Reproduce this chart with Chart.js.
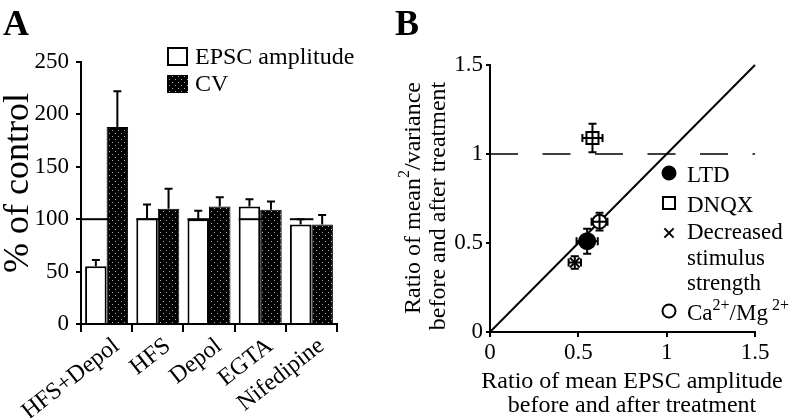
<!DOCTYPE html>
<html><head><meta charset="utf-8">
<script src="https://cdn.jsdelivr.net/npm/chart.js@4/dist/chart.umd.min.js"></script>
<style>
html,body{margin:0;padding:0;background:#fff;width:800px;height:418px;overflow:hidden}
#ca{position:absolute;left:0;top:0}
#cb{position:absolute;left:390px;top:0}
</style></head><body>
<canvas id="ca" width="395" height="418"></canvas>
<canvas id="cb" width="410" height="418"></canvas>
<script>
// ---------- Panel A data ----------
const categories = ['HFS+Depol', 'HFS', 'Depol', 'EGTA', 'Nifedipine'];
const epscAmplitude = [55, 101, 100, 112, 95];
const epscError = [6, 13, 8, 7, 5];
const cvValues = [188, 110, 112, 109, 95];
const cvError = [34, 19, 9, 8, 9];
const yTicksA = [0, 50, 100, 150, 200, 250];
const controlPercent = 100;

// ---------- Panel B data ----------
const groups = ['LTD', 'DNQX', 'Decreased stimulus strength', 'Ca2+/Mg2+'];
const ampRatio = [0.55, 0.58, 0.48, 0.62];
const ampRatioErr = [0.06, 0.057, 0.035, 0.045];
const cvRatio = [0.51, 1.09, 0.39, 0.62];
const cvRatioErr = [0.07, 0.08, 0.035, 0.05];
const identityLine = [0, 1.5];
const noChangeLevel = 1;
const xTicksB = [0, 0.5, 1, 1.5];
const yTicksB = [0, 0.5, 1, 1.5];

const FONT = '"Liberation Serif", "Times New Roman", serif';
Chart.defaults.font.family = FONT;
Chart.defaults.color = '#000';

function drawRich(ctx, parts, x, y, size, align) {
  let total = 0;
  const ws = parts.map(([t, s]) => {
    ctx.font = (s ? Math.round(size * 0.68) : size) + 'px ' + FONT;
    const w = ctx.measureText(t).width; total += w; return w;
  });
  let cx = align === 'center' ? x - total / 2 : x;
  ctx.textAlign = 'left'; ctx.textBaseline = 'alphabetic';
  parts.forEach(([t, s], i) => {
    ctx.font = (s ? Math.round(size * 0.68) : size) + 'px ' + FONT;
    ctx.fillText(t, cx, s ? y - size * 0.45 : y);
    cx += ws[i];
  });
}

// ---------- Panel A ----------
const ctxA = document.getElementById('ca').getContext('2d');
function dotPattern(ctx) {
  const c = document.createElement('canvas'); c.width = 6; c.height = 6;
  const g = c.getContext('2d');
  g.fillStyle = '#000'; g.fillRect(0, 0, 6, 6);
  g.fillStyle = '#aaa'; g.fillRect(1, 1, 1, 1); g.fillRect(4, 4, 1, 1);
  return ctx.createPattern(c, 'repeat');
}
const cvPattern = dotPattern(ctxA);

const pluginA = {
  id: 'panelA',
  afterDatasetsDraw(chart) {
    const ctx = chart.ctx, y = chart.scales.y, area = chart.chartArea;
    ctx.save();
    ctx.strokeStyle = '#000'; ctx.lineWidth = 2;
    const m0 = chart.getDatasetMeta(0);
    m0.data.forEach((bar, i) => {
      const yy = y.getPixelForValue(controlPercent);
      const l = i === 0 ? area.left : bar.x - bar.width / 2;
      ctx.beginPath(); ctx.moveTo(l, yy); ctx.lineTo(bar.x + bar.width / 2 + 2, yy); ctx.stroke();
    });
    chart.data.datasets.forEach((ds, di) => {
      const meta = chart.getDatasetMeta(di);
      meta.data.forEach((bar, i) => {
        const top = y.getPixelForValue(ds.data[i]);
        const e = y.getPixelForValue(ds.data[i] + ds.errors[i]);
        ctx.beginPath();
        ctx.moveTo(bar.x, top); ctx.lineTo(bar.x, e);
        ctx.moveTo(bar.x - 4, e); ctx.lineTo(bar.x + 4, e);
        ctx.stroke();
      });
    });
    ctx.restore();
  },
  afterDraw(chart) {
    const ctx = chart.ctx;
    ctx.save();
    ctx.fillStyle = '#000';
    ctx.font = 'bold 36px ' + FONT; ctx.textAlign = 'left'; ctx.textBaseline = 'alphabetic';
    ctx.fillText('A', 3, 35);
    ctx.lineWidth = 2; ctx.strokeStyle = '#000';
    ctx.fillStyle = '#fff'; ctx.fillRect(168, 48, 19, 17); ctx.strokeRect(168, 48, 19, 17);
    ctx.fillStyle = cvPattern; ctx.fillRect(167, 75, 21, 18);
    ctx.fillStyle = '#000';
    ctx.font = '24px ' + FONT;
    ctx.fillText(chart.data.datasets[0].label, 195, 64);
    ctx.fillText(chart.data.datasets[1].label, 195, 91);
    ctx.save();
    ctx.translate(28, 183); ctx.rotate(-Math.PI / 2);
    ctx.font = '36px ' + FONT; ctx.textAlign = 'center';
    ctx.fillText('% of control', 0, 0);
    ctx.restore();
    ctx.restore();
  }
};

new Chart(ctxA, {
  type: 'bar',
  data: {
    labels: categories,
    datasets: [
      { label: 'EPSC amplitude', data: epscAmplitude, errors: epscError, backgroundColor: '#fff', borderColor: '#000', borderWidth: 2 },
      { label: 'CV', data: cvValues, errors: cvError, backgroundColor: cvPattern, borderColor: '#000', borderWidth: 1 }
    ]
  },
  options: {
    responsive: false, animation: false,
    categoryPercentage: 0.84, barPercentage: 1.0,
    layout: { padding: { top: 62, right: 58, left: 0, bottom: 0 } },
    plugins: { legend: { display: false }, tooltip: { enabled: false } },
    scales: {
      x: {
        grid: { display: true, drawOnChartArea: false, drawTicks: true, tickLength: 8, color: '#000', lineWidth: 2, offset: true },
        border: { display: true, color: '#000', width: 2 },
        ticks: { font: { size: 24 }, color: '#000', minRotation: 38, maxRotation: 38, autoSkip: false, padding: 0, labelOffset: 10 },
        afterFit(s) { s.height = 94; s.paddingLeft = 0; s.paddingRight = 0; }
      },
      y: {
        min: 0, max: 250,
        afterBuildTicks(s) { s.ticks = yTicksA.map(v => ({ value: v })); },
        grid: { drawOnChartArea: false, drawTicks: true, tickLength: 5, color: '#000', lineWidth: 2 },
        border: { display: true, color: '#000', width: 2 },
        ticks: { font: { size: 23 }, color: '#000', padding: 7 },
        afterFit(s) { s.width = 81; s.paddingTop = 0; s.paddingBottom = 0; }
      }
    }
  },
  plugins: [pluginA]
});

// ---------- Panel B ----------
const ctxB = document.getElementById('cb').getContext('2d');
const markerStyle = [
  { pointStyle: 'circle', r: 8, bg: '#000', lr: 6.5 },
  { pointStyle: 'rect', r: 8.5, bg: '#fff', lr: 8.5 },
  { pointStyle: 'crossRot', r: 7, bg: '#000', lr: 6.5 },
  { pointStyle: 'circle', r: 7, bg: '#fff', lr: 6.5 }
];
const legendLines = [
  [[['LTD', false]]],
  [[['DNQX', false]]],
  [[['Decreased', false]], [['stimulus', false]], [['strength', false]]],
  [[['Ca', false], ['2+', true], ['/Mg', false], [' 2+', true]]]
];

const pointSets = groups.map((g, i) => ({
  label: g,
  data: [{ x: ampRatio[i], y: cvRatio[i] }],
  errX: [ampRatioErr[i]], errY: [cvRatioErr[i]],
  pointStyle: markerStyle[i].pointStyle,
  pointRadius: markerStyle[i].r,
  backgroundColor: markerStyle[i].bg,
  borderColor: '#000', borderWidth: 2,
  order: 1
}));

const pluginB = {
  id: 'panelB',
  afterDatasetsDraw(chart) {
    const ctx = chart.ctx, x = chart.scales.x, y = chart.scales.y;
    ctx.save(); ctx.strokeStyle = '#000'; ctx.lineWidth = 2;
    chart.data.datasets.forEach((ds, di) => {
      if (!ds.errX) return;
      chart.getDatasetMeta(di).data.forEach((pt, i) => {
        const v = ds.data[i];
        const x0 = x.getPixelForValue(v.x - ds.errX[i]), x1 = x.getPixelForValue(v.x + ds.errX[i]);
        const y0 = y.getPixelForValue(v.y - ds.errY[i]), y1 = y.getPixelForValue(v.y + ds.errY[i]);
        ctx.beginPath();
        ctx.moveTo(x0, pt.y); ctx.lineTo(x1, pt.y);
        ctx.moveTo(pt.x, y0); ctx.lineTo(pt.x, y1);
        ctx.moveTo(x0, pt.y - 4); ctx.lineTo(x0, pt.y + 4);
        ctx.moveTo(x1, pt.y - 4); ctx.lineTo(x1, pt.y + 4);
        ctx.moveTo(pt.x - 4, y0); ctx.lineTo(pt.x + 4, y0);
        ctx.moveTo(pt.x - 4, y1); ctx.lineTo(pt.x + 4, y1);
        ctx.stroke();
      });
    });
    ctx.restore();
  },
  afterDraw(chart) {
    const ctx = chart.ctx;
    ctx.save();
    ctx.fillStyle = '#000'; ctx.strokeStyle = '#000';
    ctx.font = 'bold 36px ' + FONT; ctx.textAlign = 'left'; ctx.textBaseline = 'alphabetic';
    ctx.fillText('B', 5, 35);
    const mx = 279, tx = 297;
    const baselines = [[182], [212], [239, 265, 290], [320]];
    const markerY = [173, 203, 233, 311];
    markerStyle.forEach((m, i) => {
      ctx.lineWidth = 2; ctx.strokeStyle = '#000';
      ctx.fillStyle = m.bg;
      Chart.helpers.drawPoint(ctx, { pointStyle: m.pointStyle, radius: m.lr, borderWidth: 2 }, mx, markerY[i]);
      ctx.fillStyle = '#000';
      legendLines[i].forEach((parts, j) => drawRich(ctx, parts, tx, baselines[i][j], 23, 'left'));
    });
    drawRich(ctx, [['Ratio of mean EPSC amplitude', false]], 242, 388, 24, 'center');
    drawRich(ctx, [['before and after treatment', false]], 242, 412, 24, 'center');
    ctx.save();
    ctx.translate(30, 198); ctx.rotate(-Math.PI / 2);
    drawRich(ctx, [['Ratio of mean', false], ['2', true], ['/variance', false]], 0, 0, 24, 'center');
    ctx.restore();
    ctx.save();
    ctx.translate(55, 206); ctx.rotate(-Math.PI / 2);
    drawRich(ctx, [['before and after treatment', false]], 0, 0, 24, 'center');
    ctx.restore();
    ctx.restore();
  }
};

new Chart(ctxB, {
  type: 'scatter',
  data: {
    datasets: [
      ...pointSets,
      { label: 'identity', data: identityLine.map(v => ({ x: v, y: v })), showLine: true, pointRadius: 0, borderColor: '#000', borderWidth: 2, order: 2 },
      { label: 'no change', data: identityLine.map(v => ({ x: v, y: noChangeLevel })), showLine: true, pointRadius: 0, borderColor: '#000', borderWidth: 1.5, borderDash: [28, 24.5], order: 3 }
    ]
  },
  options: {
    responsive: false, animation: false, clip: false,
    layout: { padding: { top: 65, right: 45, left: 0, bottom: 0 } },
    plugins: { legend: { display: false }, tooltip: { enabled: false } },
    scales: {
      x: {
        type: 'linear', min: 0, max: 1.5,
        afterBuildTicks(s) { s.ticks = xTicksB.map(v => ({ value: v })); },
        grid: { drawOnChartArea: false, drawTicks: true, tickLength: 5, color: '#000', lineWidth: 2 },
        border: { display: true, color: '#000', width: 2 },
        ticks: { font: { size: 23 }, color: '#000', padding: 2, maxRotation: 0, callback: v => String(v) },
        afterFit(s) { s.height = 86; s.paddingLeft = 0; s.paddingRight = 0; }
      },
      y: {
        min: 0, max: 1.5,
        afterBuildTicks(s) { s.ticks = yTicksB.map(v => ({ value: v })); },
        grid: { drawOnChartArea: false, drawTicks: true, tickLength: 4, color: '#000', lineWidth: 2 },
        border: { display: true, color: '#000', width: 2 },
        ticks: { font: { size: 23 }, color: '#000', padding: 3, callback: v => String(v) },
        afterFit(s) { s.width = 100; s.paddingTop = 0; s.paddingBottom = 0; }
      }
    }
  },
  plugins: [pluginB]
});
</script>
</body></html>
